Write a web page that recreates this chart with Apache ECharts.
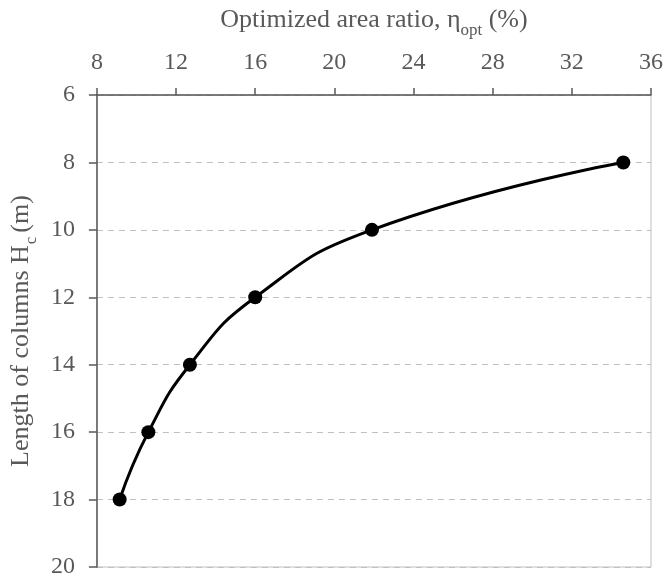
<!DOCTYPE html>
<html>
<head>
<meta charset="utf-8">
<script src="https://cdn.jsdelivr.net/npm/echarts@6/dist/echarts.min.js"></script>
<style>html,body{margin:0;padding:0;background:#fff}#c{width:667px;height:579px}</style>
</head>
<body>
<div id="c"></div>
<script>
var areaRatio = [9.15, 10.6, 12.7, 16.0, 21.9, 34.6];
var columnLength = [18, 16, 14, 12, 10, 8];
var xTicks = {min: 8, max: 36, interval: 4};
var yTicks = {min: 6, max: 20, interval: 2};

var font = '"Liberation Serif", "Times New Roman", serif';
var txt = '#595959';
var chart = echarts.init(document.getElementById('c'));
chart.setOption({
  backgroundColor: '#fff',
  animation: false,
  grid: {left: 92, top: 95, right: 16, bottom: 11, show: true, borderColor: '#bfbfbf', borderWidth: 1},
  xAxis: {
    type: 'value', position: 'top',
    min: xTicks.min, max: xTicks.max, interval: xTicks.interval,
    name: '{a|Optimized area ratio, η}{s|opt}{a| (%)}',
    nameLocation: 'middle', nameGap: 62,
    nameTextStyle: {rich: {
      a: {fontFamily: font, fontSize: 26, color: txt, verticalAlign: 'bottom', lineHeight: 30},
      s: {fontFamily: font, fontSize: 17, color: txt, verticalAlign: 'bottom', lineHeight: 30, padding: [0,0,-6,0]}
    }},
    axisLine: {show: true, lineStyle: {color: '#595959', width: 1.5}},
    axisTick: {show: true, inside: false, length: 7, lineStyle: {color: '#595959', width: 1.5}},
    axisLabel: {fontFamily: font, fontSize: 24, color: txt, margin: 20},
    splitLine: {show: false}
  },
  yAxis: {
    type: 'value', inverse: true,
    min: yTicks.min, max: yTicks.max, interval: yTicks.interval,
    name: '{a|Length of columns H}{s|c}{a|(m)}',
    nameLocation: 'middle', nameGap: 52, nameRotate: 90,
    nameTextStyle: {rich: {
      a: {fontFamily: font, fontSize: 26, color: txt, verticalAlign: 'bottom', lineHeight: 30},
      s: {fontFamily: font, fontSize: 17, color: txt, verticalAlign: 'bottom', lineHeight: 30, padding: [0,4,-6,1]}
    }},
    axisLine: {show: true, lineStyle: {color: '#595959', width: 1.5}},
    axisTick: {show: true, inside: false, length: 8, lineStyle: {color: '#595959', width: 1.5}},
    axisLabel: {fontFamily: font, fontSize: 24, color: txt, margin: 22},
    splitLine: {show: true, lineStyle: {color: '#bfbfbf', type: [6, 5], width: 1}}
  },
  series: [{
    type: 'line',
    data: areaRatio.map(function (x, i) { return [x, columnLength[i]]; }),
    smooth: 0.5,
    symbol: 'circle', symbolSize: 14,
    itemStyle: {color: '#000'},
    lineStyle: {color: '#000', width: 3}
  }]
});
</script>
</body>
</html>
